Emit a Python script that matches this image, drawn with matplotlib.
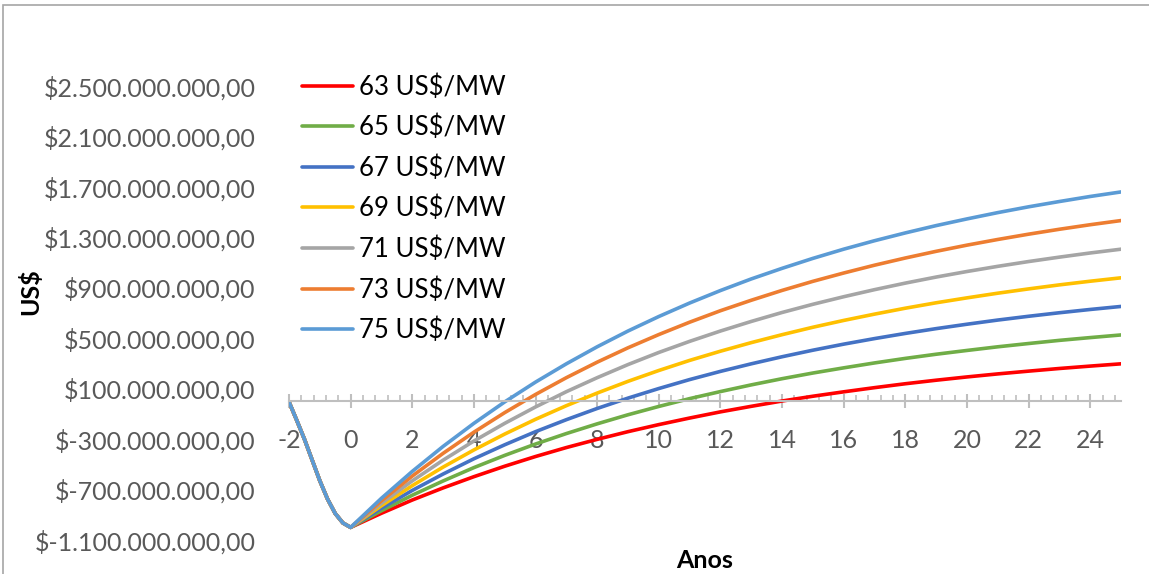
import numpy as np
import matplotlib
matplotlib.use("Agg")
import matplotlib.pyplot as plt
from matplotlib.patches import Rectangle
from matplotlib.ticker import FuncFormatter, MultipleLocator

plt.rcParams['font.family'] = ['Lato', 'DejaVu Sans']
plt.rcParams['axes.unicode_minus'] = False

# anos de construção (curva comum a todos os cenários), valores em milhões de US$
anos_obra = [-2, -1.75, -1.5, -1.25, -1, -0.75, -0.5, -0.25, 0]
vpl_obra = [-5, -150, -300, -465, -630, -775, -890, -965, -1000]

# anos de operação
anos = list(range(0, 26))

rotulos = ['63 US$/MW', '65 US$/MW', '67 US$/MW', '69 US$/MW',
           '71 US$/MW', '73 US$/MW', '75 US$/MW']
cores = ['#FF0000', '#70AD47', '#4472C4', '#FFC000',
         '#A5A5A5', '#ED7D31', '#5B9BD5']

vpl_63 = [-1000, -888, -783, -687, -598, -515, -438, -367, -302, -241, -185, -133, -84,
          -40, 2, 40, 75, 108, 139, 167, 193, 217, 239, 260, 279, 297]
vpl_65 = [-1000, -868, -745, -632, -526, -429, -339, -256, -179, -107, -41, 21, 77,
          130, 179, 224, 265, 304, 340, 373, 403, 432, 458, 483, 505, 526]
vpl_67 = [-1000, -848, -707, -577, -456, -345, -241, -146, -57, 25, 101, 172, 237,
          297, 353, 405, 453, 497, 538, 576, 611, 644, 674, 702, 728, 752]
vpl_69 = [-1000, -828, -669, -522, -386, -260, -143, -35, 65, 158, 244, 324, 397,
          465, 528, 587, 641, 691, 738, 781, 820, 857, 891, 923, 952, 979]
vpl_71 = [-1000, -809, -631, -467, -315, -175, -45, 76, 187, 291, 387, 475, 557,
          633, 704, 769, 829, 885, 937, 985, 1029, 1070, 1108, 1143, 1176, 1206]
vpl_73 = [-1000, -789, -593, -413, -245, -90, 54, 187, 310, 424, 529, 627, 718,
          801, 879, 951, 1017, 1079, 1136, 1189, 1238, 1283, 1325, 1364, 1400, 1433]
vpl_75 = [-1000, -769, -556, -358, -175, -5, 152, 297, 432, 557, 672, 779, 878,
          970, 1054, 1133, 1206, 1273, 1335, 1393, 1446, 1496, 1542, 1584, 1624, 1660]

series = [vpl_63, vpl_65, vpl_67, vpl_69, vpl_71, vpl_73, vpl_75]

yticks = np.arange(-1100, 2501, 400) * 1e6

W, H = 1149, 574
fig = plt.figure(figsize=(W / 100, H / 100), dpi=100)
ax = fig.add_axes([289 / W, 1 - 540 / H, (1121 - 289) / W, (540 - 86) / H])

for vals, cor, rot in zip(series, cores, rotulos):
    x = anos_obra[:-1] + anos
    y = (np.array(vpl_obra[:-1] + vals)) * 1e6
    ax.plot(x, y, color=cor, lw=2.6, label=rot, solid_capstyle='round',
            solid_joinstyle='round')

ax.set_xlim(-2, 25)
ax.set_ylim(-1100e6, 2500e6)

# eixo x passando por zero
for s in ['top', 'right', 'left']:
    ax.spines[s].set_visible(False)
ax.spines['bottom'].set_position(('data', 0))
ax.spines['bottom'].set_color('#BFBFBF')
ax.spines['bottom'].set_linewidth(1.5)

ax.xaxis.set_major_locator(MultipleLocator(2))
ax.xaxis.set_minor_locator(MultipleLocator(0.4))
ax.tick_params(axis='x', which='major', direction='inout', length=10, width=1.5,
               color='#BFBFBF', pad=15, labelsize=18, labelcolor='#595959')
ax.tick_params(axis='x', which='minor', direction='in', length=4.5, width=1.2,
               color='#BFBFBF')

ax.set_yticks(yticks)
fmt = lambda v, p: '$' + ('-' if v < 0 else '') + f"{abs(int(round(v))):,}".replace(',', '.') + ',00'
ax.yaxis.set_major_formatter(FuncFormatter(fmt))
ax.tick_params(axis='y', length=0, pad=24, labelsize=18, labelcolor='#595959')

fig.text(30 / W, 1 - 292 / H, 'US$', rotation=90, fontsize=18, fontweight='bold',
         ha='center', va='center')
fig.text(705 / W, 1 - 560 / H, 'Anos', fontsize=18, fontweight='bold',
         ha='center', va='center')

ax.legend(loc='upper left', bbox_to_anchor=(302 / W, 1 - 74 / H),
          bbox_transform=fig.transFigure, frameon=False, fontsize=18.5,
          handlelength=2.0, handletextpad=0.2, labelspacing=0.59, borderpad=0,
          borderaxespad=0)

# borda da área do gráfico (recortada)
fig.add_artist(Rectangle((3 / W, -0.1), 1.2, 1 - 5 / H + 0.1, transform=fig.transFigure,
                         fill=False, edgecolor='#A6A6A6', lw=1.2, clip_on=False))

fig.savefig('out.png', dpi=100)
